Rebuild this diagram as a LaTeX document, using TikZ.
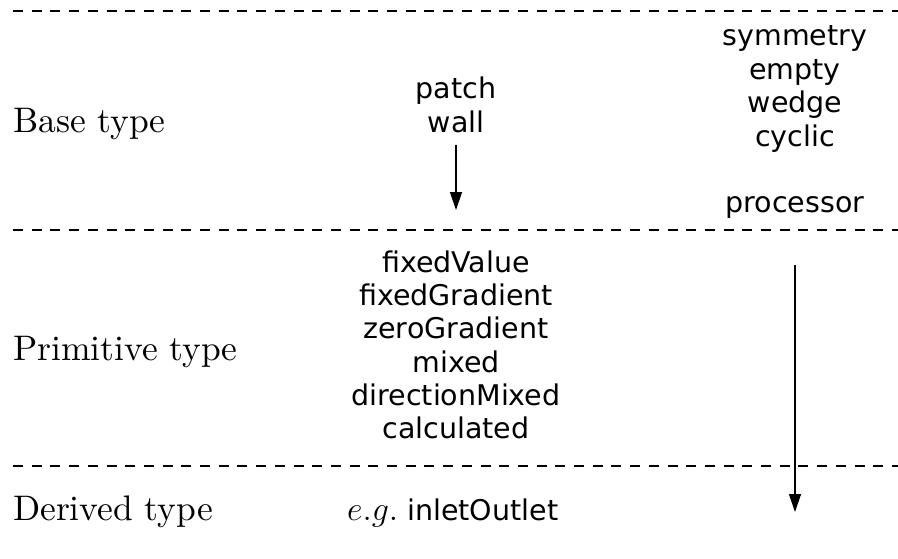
\documentclass[tikz,border=0pt]{standalone}
\usepackage{fix-cm}
\usepackage{fontspec}
\setsansfont{DejaVu Sans}
\newfontfamily\lmten{lmroman10-regular}[Extension=.otf]
\usetikzlibrary{arrows.meta}
\begin{document}
\begin{tikzpicture}[x=1pt,y=-1pt,
  lbl/.style={anchor=base west, inner sep=0pt, font=\lmten\fontsize{35.5}{40}\selectfont},
  item/.style={anchor=base, inner sep=0pt, font=\sffamily\fontsize{28.5}{33}\selectfont},
  sepline/.style={line width=1.2pt, dash pattern=on 10pt off 8.7pt},
  arr/.style={line width=1.3pt, -{Triangle[length=18pt,width=12pt]}}]
\useasboundingbox (0,0) rectangle (898,558);
% separators
\coordinate (s1a) at (13,11);  \coordinate (s1b) at (898,11);
\coordinate (s2a) at (13,230); \coordinate (s2b) at (898,230);
\coordinate (s3a) at (13,466); \coordinate (s3b) at (898,466);
\draw[sepline] (s1a) -- (s1b);
\draw[sepline] (s2a) -- (s2b);
\draw[sepline] (s3a) -- (s3b);
% row labels
\node[lbl] (base) at (13,132) {Base type};
\node[lbl] (prim) at (13,360) {Primitive type};
\node[lbl] (der)  at (13,520) {Derived type};
% base column
\node[item] (patch) at (456,98)  {patch};
\node[item] (wall)  at (456,132) {wall};
\node[item] (sym)   at (795,45)  {symmetry};
\node[item] (empty) at (795,79)  {empty};
\node[item] (wedge) at (795,112) {wedge};
\node[item] (cyc)   at (795,146) {cyclic};
\node[item] (proc)  at (795,212) {processor};
% primitive column
\node[item] (fv) at (456,272) {fixedValue};
\node[item] (fg) at (456,305) {fixedGradient};
\node[item] (zg) at (456,338) {zeroGradient};
\node[item] (mx) at (456,372) {mixed};
\node[item] (dm) at (456,405) {directionMixed};
\node[item] (cl) at (456,438) {calculated};
% derived
\node[item, anchor=base west] (io) at (347,520) {{\rmfamily\fontsize{34}{36}\selectfont$e.g.$} inletOutlet};
% arrows
\coordinate (a1s) at (456,145); \coordinate (a1e) at (456,210);
\coordinate (a2s) at (795,265); \coordinate (a2e) at (795,512);
\draw[arr] (a1s) -- (a1e);
\draw[arr] (a2s) -- (a2e);
\end{tikzpicture}
\end{document}
